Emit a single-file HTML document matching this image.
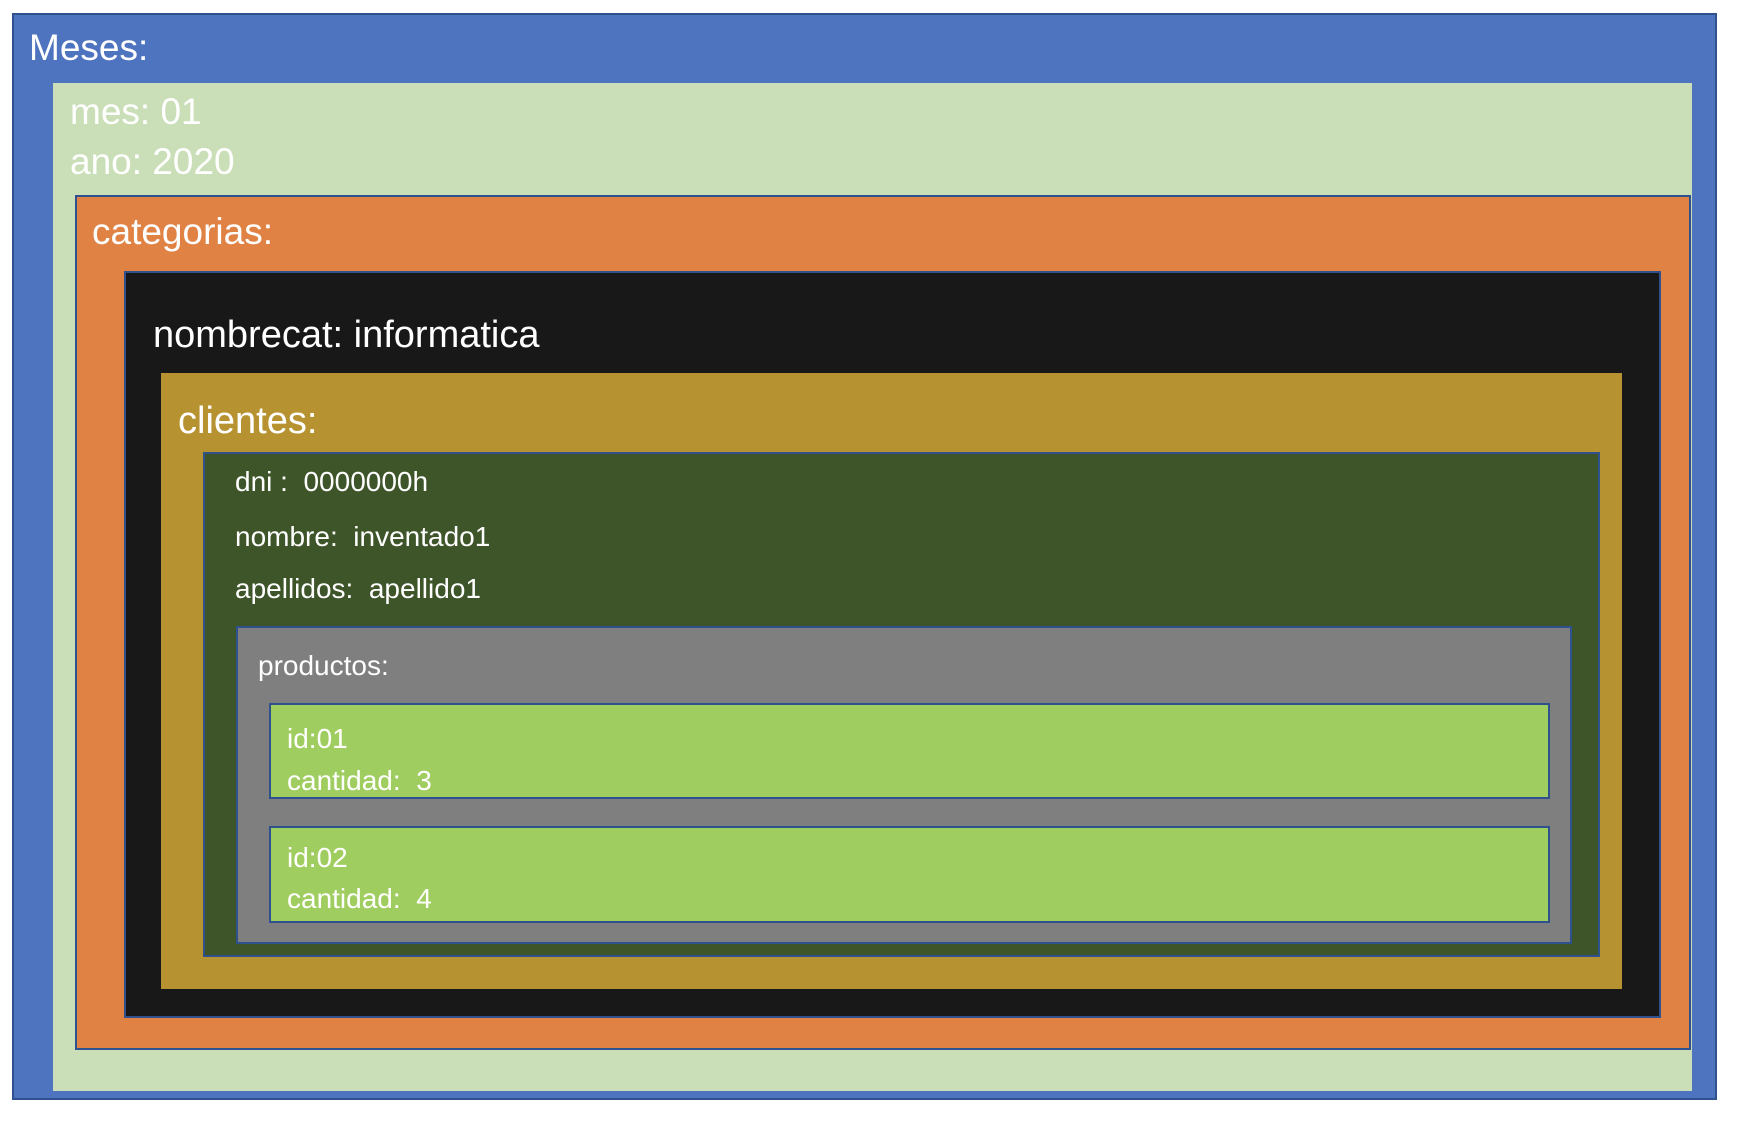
<!DOCTYPE html>
<html><head><meta charset="utf-8"><style>
body{margin:0;width:1738px;height:1124px;background:#fff;position:relative;overflow:hidden;font-family:"Liberation Sans",sans-serif;color:#fff}
.b{position:absolute;box-sizing:border-box;border:2px solid #2f528f}
.t{position:absolute;white-space:nowrap;line-height:1}
</style></head><body>
<div class="b" style="left:12px;top:13px;width:1705px;height:1087px;background:#4e74bf"></div>
<div class="b" style="left:53px;top:83px;width:1639px;height:1008px;background:#cadfb8;border:none"></div>
<div class="b" style="left:75px;top:195px;width:1616px;height:855px;background:#e08244"></div>
<div class="b" style="left:124px;top:271px;width:1537px;height:747px;background:#181818"></div>
<div class="b" style="left:161px;top:373px;width:1461px;height:616px;background:#b79231;border:none"></div>
<div class="b" style="left:203px;top:452px;width:1397px;height:505px;background:#3e5429"></div>
<div class="b" style="left:236px;top:626px;width:1336px;height:318px;background:#7f7f7f"></div>
<div class="b" style="left:269px;top:703px;width:1281px;height:96px;background:#a0cd60"></div>
<div class="b" style="left:269px;top:826px;width:1281px;height:97px;background:#a0cd60"></div>

<div class="t" style="left:29px;top:29px;font-size:37px">Meses:</div>
<div class="t" style="left:70px;top:93px;font-size:37px">mes: 01</div>
<div class="t" style="left:70px;top:143px;font-size:37px">ano: 2020</div>
<div class="t" style="left:92px;top:213px;font-size:37px">categorias:</div>
<div class="t" style="left:153px;top:316px;font-size:38px">nombrecat: informatica</div>
<div class="t" style="left:178px;top:402px;font-size:38px">clientes:</div>
<div class="t" style="left:235px;top:468px;font-size:28px">dni :&nbsp; 0000000h</div>
<div class="t" style="left:235px;top:523px;font-size:28px">nombre:&nbsp; inventado1</div>
<div class="t" style="left:235px;top:575px;font-size:28px">apellidos:&nbsp; apellido1</div>
<div class="t" style="left:258px;top:652px;font-size:28px">productos:</div>
<div class="t" style="left:287px;top:725px;font-size:28px">id:01</div>
<div class="t" style="left:287px;top:767px;font-size:28px">cantidad:&nbsp; 3</div>
<div class="t" style="left:287px;top:844px;font-size:28px">id:02</div>
<div class="t" style="left:287px;top:885px;font-size:28px">cantidad:&nbsp; 4</div>
</body></html>
